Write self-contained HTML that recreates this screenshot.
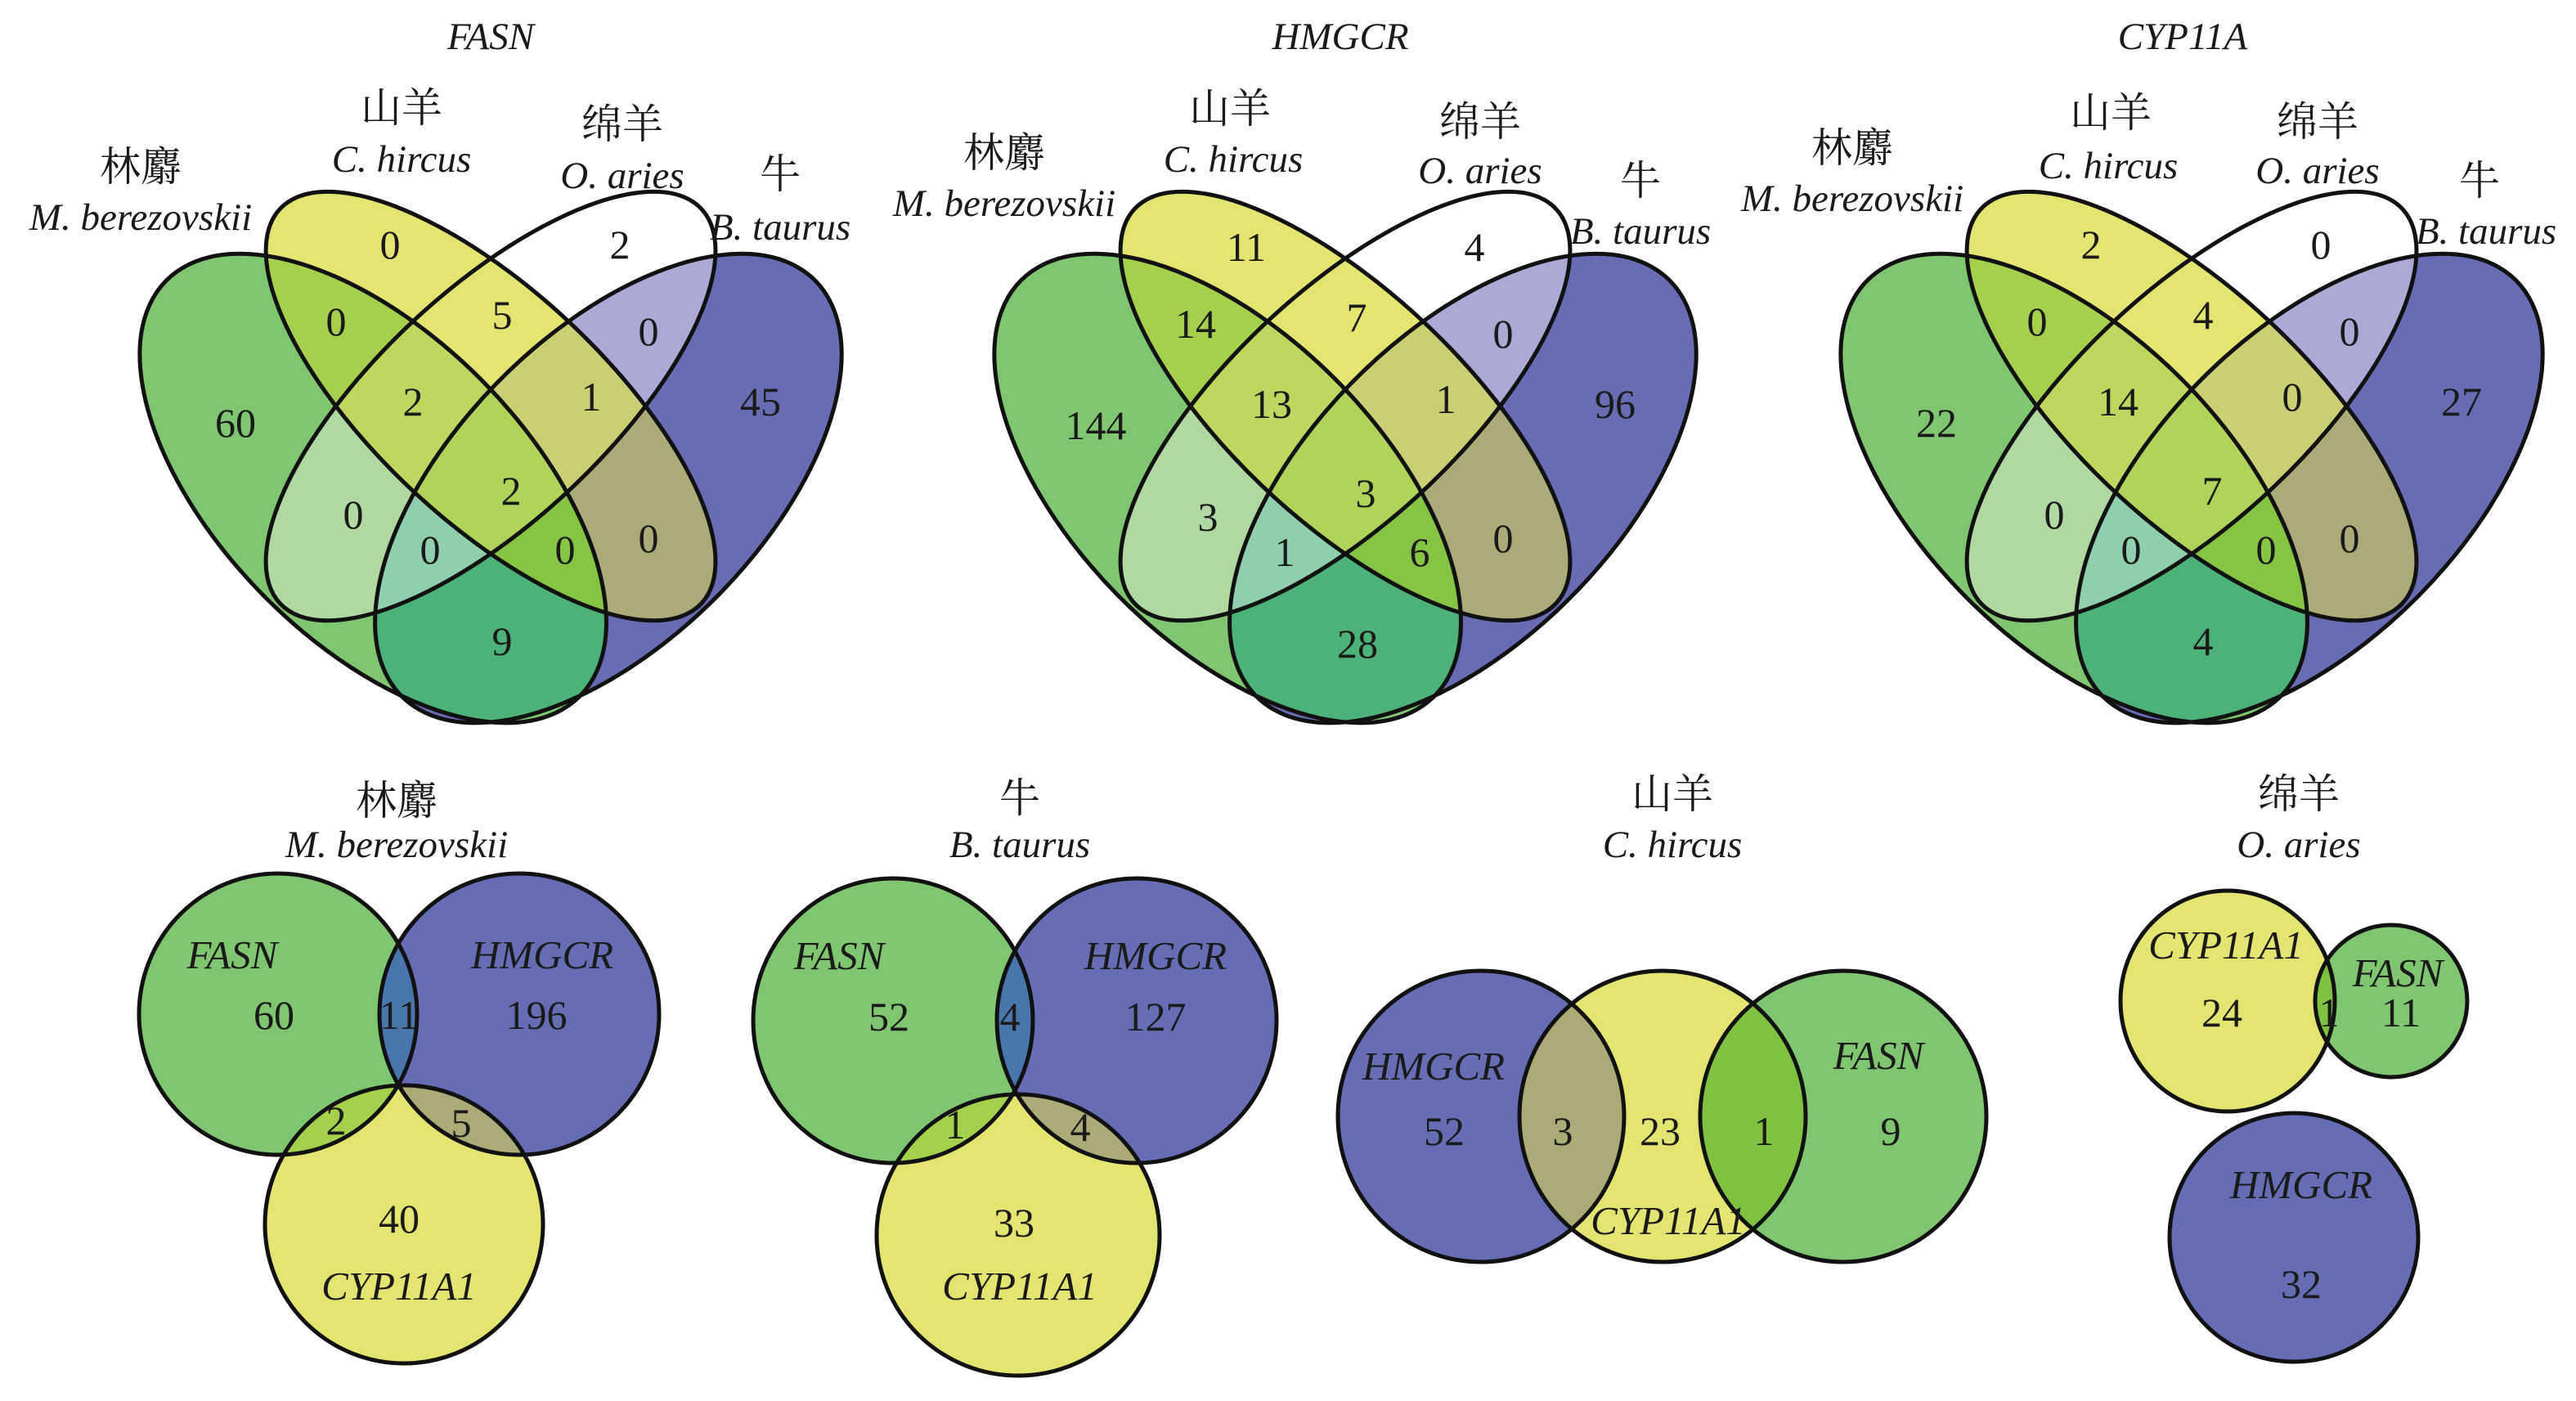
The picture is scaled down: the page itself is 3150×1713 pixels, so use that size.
<!DOCTYPE html>
<html><head><meta charset="utf-8">
<style>
html,body{margin:0;padding:0;background:#fff;}
svg{display:block;}
svg text{font-family:"Liberation Serif","DejaVu Serif","Noto Serif CJK SC",serif !important;fill:#1a1a1a;text-anchor:middle;}
svg text.cj{font-family:"Noto Serif CJK SC","Noto Serif CJK SC Regular","Liberation Serif",serif !important;font-size:50px;}
.it{font-style:italic;font-size:47px;}
.n{font-size:50px;}
.t{font-style:italic;font-size:47px;}
.bl{font-style:italic;font-size:49px;}
</style></head>
<body>
<svg width="3150" height="1713" font-family="Liberation Serif, serif" xmlns="http://www.w3.org/2000/svg" xmlns:xlink="http://www.w3.org/1999/xlink">
<defs>
  <ellipse id="eG" cx="650" cy="1040" rx="575" ry="290" transform="rotate(55 650 1040)" vector-effect="non-scaling-stroke"/>
  <ellipse id="eB" cx="1060" cy="1040" rx="575" ry="290" transform="rotate(-55 1060 1040)" vector-effect="non-scaling-stroke"/>
  <ellipse id="eY" cx="855" cy="865" rx="560" ry="220" transform="rotate(51 855 865)" vector-effect="non-scaling-stroke"/>
  <ellipse id="eW" cx="855" cy="865" rx="560" ry="220" transform="rotate(-51 855 865)" vector-effect="non-scaling-stroke"/>
  <clipPath id="cG"><use xlink:href="#eG"/></clipPath>
  <clipPath id="cB"><use xlink:href="#eB"/></clipPath>
  <clipPath id="cY"><use xlink:href="#eY"/></clipPath>
  <clipPath id="cW"><use xlink:href="#eW"/></clipPath>
  <g id="venn4">
    <use xlink:href="#eG" fill="#80c56f"/>
    <use xlink:href="#eB" fill="#676cb5"/>
    <use xlink:href="#eB" fill="#4cb27a" clip-path="url(#cG)"/>
    <use xlink:href="#eW" fill="#ffffff"/>
    <use xlink:href="#eW" fill="#afd9a1" clip-path="url(#cG)"/>
    <use xlink:href="#eW" fill="#aca9d6" clip-path="url(#cB)"/>
    <g clip-path="url(#cG)"><use xlink:href="#eW" fill="#8fcfad" clip-path="url(#cB)"/></g>
    <use xlink:href="#eY" fill="#e2e670"/>
    <use xlink:href="#eY" fill="#a6d04b" clip-path="url(#cG)"/>
    <use xlink:href="#eY" fill="#aaab78" clip-path="url(#cB)"/>
    <g clip-path="url(#cG)"><use xlink:href="#eY" fill="#86c443" clip-path="url(#cB)"/></g>
    <g clip-path="url(#cW)"><use xlink:href="#eY" fill="#bdd75f" clip-path="url(#cG)"/></g>
    <g clip-path="url(#cW)"><use xlink:href="#eY" fill="#cacf74" clip-path="url(#cB)"/></g>
    <g clip-path="url(#cW)"><g clip-path="url(#cG)"><use xlink:href="#eY" fill="#b0d45a" clip-path="url(#cB)"/></g></g>
    <g fill="none" stroke="#111" stroke-width="5">
      <use xlink:href="#eG"/>
      <use xlink:href="#eB"/>
      <use xlink:href="#eW"/>
      <use xlink:href="#eY"/>
    </g>
  </g>
</defs>

<g transform="translate(0,0) scale(0.7018,0.5741)"><use xlink:href="#venn4"/></g>
<g transform="translate(1045,0) scale(0.7018,0.5741)"><use xlink:href="#venn4"/></g>
<g transform="translate(2080,0) scale(0.7018,0.5741)"><use xlink:href="#venn4"/></g>

<text class="t" x="600" y="60">FASN</text>
<text class="cj" x="491" y="149">山羊</text>
<text class="it" x="491" y="210">C. hircus</text>
<text class="cj" x="761" y="169">绵羊</text>
<text class="it" x="761" y="230">O. aries</text>
<text class="cj" x="172" y="221">林麝</text>
<text class="it" x="172" y="281">M. berezovskii</text>
<text class="cj" x="954" y="230">牛</text>
<text class="it" x="954" y="293">B. taurus</text>
<text class="n" x="477" y="316">0</text>
<text class="n" x="758" y="316">2</text>
<text class="n" x="411" y="410">0</text>
<text class="n" x="614" y="402">5</text>
<text class="n" x="793" y="422">0</text>
<text class="n" x="288" y="534">60</text>
<text class="n" x="505" y="508">2</text>
<text class="n" x="723" y="502">1</text>
<text class="n" x="930" y="508">45</text>
<text class="n" x="625" y="617">2</text>
<text class="n" x="432" y="646">0</text>
<text class="n" x="526" y="689">0</text>
<text class="n" x="691" y="689">0</text>
<text class="n" x="793" y="675">0</text>
<text class="n" x="614" y="801">9</text>

<text class="t" x="1639" y="60">HMGCR</text>
<text class="cj" x="1504" y="150">山羊</text>
<text class="it" x="1508" y="210">C. hircus</text>
<text class="cj" x="1810" y="166">绵羊</text>
<text class="it" x="1810" y="224">O. aries</text>
<text class="cj" x="1228" y="204">林麝</text>
<text class="it" x="1228" y="264">M. berezovskii</text>
<text class="cj" x="2006" y="238">牛</text>
<text class="it" x="2006" y="298">B. taurus</text>
<text class="n" x="1524" y="319">11</text>
<text class="n" x="1803" y="319">4</text>
<text class="n" x="1462" y="413">14</text>
<text class="n" x="1659" y="405">7</text>
<text class="n" x="1838" y="425">0</text>
<text class="n" x="1340" y="537">144</text>
<text class="n" x="1555" y="511">13</text>
<text class="n" x="1768" y="505">1</text>
<text class="n" x="1975" y="511">96</text>
<text class="n" x="1670" y="620">3</text>
<text class="n" x="1477" y="649">3</text>
<text class="n" x="1571" y="692">1</text>
<text class="n" x="1736" y="692">6</text>
<text class="n" x="1838" y="675">0</text>
<text class="n" x="1660" y="804">28</text>

<text class="t" x="2669" y="60">CYP11A</text>
<text class="cj" x="2581" y="155">山羊</text>
<text class="it" x="2578" y="218">C. hircus</text>
<text class="cj" x="2834" y="166">绵羊</text>
<text class="it" x="2834" y="224">O. aries</text>
<text class="cj" x="2265" y="198">林麝</text>
<text class="it" x="2265" y="258">M. berezovskii</text>
<text class="cj" x="3032" y="238">牛</text>
<text class="it" x="3040" y="298">B. taurus</text>
<text class="n" x="2557" y="316">2</text>
<text class="n" x="2838" y="316">0</text>
<text class="n" x="2491" y="410">0</text>
<text class="n" x="2694" y="402">4</text>
<text class="n" x="2873" y="422">0</text>
<text class="n" x="2368" y="534">22</text>
<text class="n" x="2590" y="508">14</text>
<text class="n" x="2803" y="502">0</text>
<text class="n" x="3010" y="508">27</text>
<text class="n" x="2705" y="617">7</text>
<text class="n" x="2512" y="646">0</text>
<text class="n" x="2606" y="689">0</text>
<text class="n" x="2771" y="689">0</text>
<text class="n" x="2873" y="675">0</text>
<text class="n" x="2694" y="801">4</text>

<defs>
  <clipPath id="aG"><ellipse cx="340" cy="1240" rx="170" ry="172"/></clipPath>
  <clipPath id="aB"><ellipse cx="635" cy="1240" rx="171" ry="172"/></clipPath>
  <clipPath id="bG"><ellipse cx="1092" cy="1248" rx="171" ry="174"/></clipPath>
  <clipPath id="bB"><ellipse cx="1390" cy="1248" rx="171" ry="174"/></clipPath>
  <clipPath id="cYc"><ellipse cx="2033" cy="1365" rx="175" ry="178"/></clipPath>
  <clipPath id="dY"><ellipse cx="2724" cy="1224" rx="131" ry="135"/></clipPath>
</defs>
<text class="cj" x="485" y="996">林麝</text>
<text class="it" x="485" y="1048">M. berezovskii</text>
<ellipse cx="340" cy="1240" rx="170" ry="172" fill="#80c570"/>
<ellipse cx="635" cy="1240" rx="171" ry="172" fill="#676db5"/>
<ellipse cx="635" cy="1240" rx="171" ry="172" fill="#4876ad" clip-path="url(#aG)"/>
<ellipse cx="494" cy="1497" rx="170" ry="170" fill="#e2e670"/>
<ellipse cx="494" cy="1497" rx="170" ry="170" fill="#a5d04b" clip-path="url(#aG)"/>
<ellipse cx="494" cy="1497" rx="170" ry="170" fill="#abab77" clip-path="url(#aB)"/>
<g fill="none" stroke="#111" stroke-width="5">
<ellipse cx="340" cy="1240" rx="170" ry="172"/>
<ellipse cx="635" cy="1240" rx="171" ry="172"/>
<ellipse cx="494" cy="1497" rx="170" ry="170"/>
</g>
<text class="bl" x="284" y="1184">FASN</text>
<text class="n" x="335" y="1258">60</text>
<text class="n" x="488" y="1258">11</text>
<text class="bl" x="663" y="1184">HMGCR</text>
<text class="n" x="656" y="1258">196</text>
<text class="n" x="411" y="1387">2</text>
<text class="n" x="564" y="1390">5</text>
<text class="n" x="488" y="1507">40</text>
<text class="bl" x="488" y="1589">CYP11A1</text>

<text class="cj" x="1247" y="993">牛</text>
<text class="it" x="1247" y="1048">B. taurus</text>
<ellipse cx="1092" cy="1248" rx="171" ry="174" fill="#80c570"/>
<ellipse cx="1390" cy="1248" rx="171" ry="174" fill="#676db5"/>
<ellipse cx="1390" cy="1248" rx="171" ry="174" fill="#4876ad" clip-path="url(#bG)"/>
<ellipse cx="1245" cy="1510" rx="173" ry="172" fill="#e2e670"/>
<ellipse cx="1245" cy="1510" rx="173" ry="172" fill="#a5d04b" clip-path="url(#bG)"/>
<ellipse cx="1245" cy="1510" rx="173" ry="172" fill="#abab77" clip-path="url(#bB)"/>
<g fill="none" stroke="#111" stroke-width="5">
<ellipse cx="1092" cy="1248" rx="171" ry="174"/>
<ellipse cx="1390" cy="1248" rx="171" ry="174"/>
<ellipse cx="1245" cy="1510" rx="173" ry="172"/>
</g>
<text class="bl" x="1026" y="1185">FASN</text>
<text class="n" x="1087" y="1260">52</text>
<text class="n" x="1235" y="1260">4</text>
<text class="bl" x="1413" y="1185">HMGCR</text>
<text class="n" x="1413" y="1260">127</text>
<text class="n" x="1168" y="1392">1</text>
<text class="n" x="1321" y="1395">4</text>
<text class="n" x="1240" y="1512">33</text>
<text class="bl" x="1247" y="1589">CYP11A1</text>

<text class="cj" x="2045" y="988">山羊</text>
<text class="it" x="2045" y="1048">C. hircus</text>
<ellipse cx="1811" cy="1365" rx="175" ry="178" fill="#676db5"/>
<ellipse cx="2254" cy="1365" rx="175" ry="178" fill="#80c570"/>
<ellipse cx="2033" cy="1365" rx="175" ry="178" fill="#e2e670"/>
<ellipse cx="1811" cy="1365" rx="175" ry="178" fill="#aaab76" clip-path="url(#cYc)"/>
<ellipse cx="2254" cy="1365" rx="175" ry="178" fill="#7fc242" clip-path="url(#cYc)"/>
<g fill="none" stroke="#111" stroke-width="5">
<ellipse cx="1811" cy="1365" rx="175" ry="178"/>
<ellipse cx="2033" cy="1365" rx="175" ry="178"/>
<ellipse cx="2254" cy="1365" rx="175" ry="178"/>
</g>
<text class="bl" x="1753" y="1320">HMGCR</text>
<text class="n" x="1766" y="1400">52</text>
<text class="n" x="1911" y="1400">3</text>
<text class="n" x="2030" y="1400">23</text>
<text class="n" x="2157" y="1400">1</text>
<text class="bl" x="2297" y="1307">FASN</text>
<text class="n" x="2312" y="1400">9</text>
<text class="bl" x="2040" y="1509">CYP11A1</text>

<text class="cj" x="2811" y="988">绵羊</text>
<text class="it" x="2811" y="1048">O. aries</text>
<ellipse cx="2724" cy="1224" rx="131" ry="135" fill="#e2e670"/>
<ellipse cx="2924" cy="1224" rx="93" ry="93" fill="#80c570"/>
<ellipse cx="2924" cy="1224" rx="93" ry="93" fill="#7fc242" clip-path="url(#dY)"/>
<ellipse cx="2805" cy="1513" rx="152" ry="152" fill="#676db5"/>
<g fill="none" stroke="#111" stroke-width="5">
<ellipse cx="2724" cy="1224" rx="131" ry="135"/>
<ellipse cx="2924" cy="1224" rx="93" ry="93"/>
<ellipse cx="2805" cy="1513" rx="152" ry="152"/>
</g>
<text class="bl" x="2722" y="1172">CYP11A1</text>
<text class="n" x="2717" y="1255">24</text>
<text class="n" x="2848" y="1255">1</text>
<text class="bl" x="2932" y="1206">FASN</text>
<text class="n" x="2936" y="1255">11</text>
<text class="bl" x="2814" y="1465">HMGCR</text>
<text class="n" x="2814" y="1587">32</text>
</svg>
</body></html>
